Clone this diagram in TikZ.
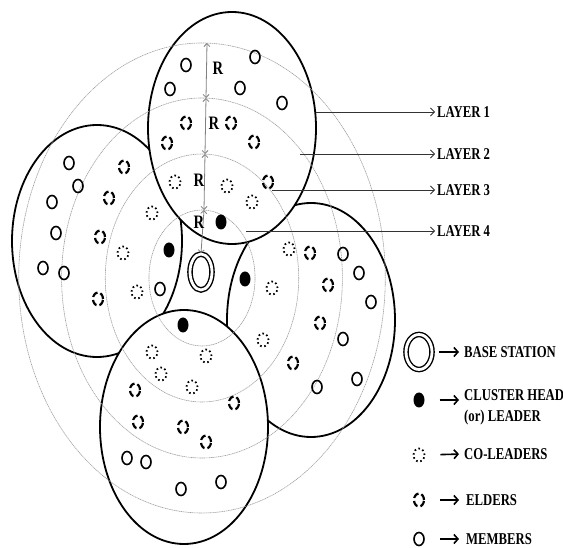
\documentclass[tikz,border=0pt]{standalone}
\usepackage{fontspec}
\setmainfont{Liberation Serif}[FakeStretch=0.77]
\usetikzlibrary{shapes.geometric,arrows.meta}

\tikzset{
  cluster/.style={draw, line width=1.8pt, fill=white},
  layer/.style={draw=gray!75, line width=0.6pt, dash pattern=on 1.2pt off 0.6pt},
  member/.style={draw, ellipse, line width=1.6pt, minimum width=10pt, minimum height=13pt, inner sep=0pt},
  elder/.style={draw, ellipse, line width=2.2pt, dash pattern=on 6.5pt off 3pt, minimum width=10pt, minimum height=13pt, inner sep=0pt},
  coleader/.style={draw, ellipse, line width=1.8pt, dash pattern=on 1.6pt off 2.6pt, minimum width=11pt, minimum height=13pt, inner sep=0pt},
  head/.style={fill, ellipse, minimum width=11pt, minimum height=15pt, inner sep=0pt},
  station/.style={draw, ellipse, double, double distance=2.8pt, line width=1.4pt, minimum width=22pt, minimum height=36pt, inner sep=0pt},
  txt/.style={font=\bfseries\fontsize{16.5}{21}\selectfont, anchor=west, inner sep=2pt, align=left},
  rlab/.style={font=\bfseries\fontsize{19}{19}\selectfont, inner sep=0pt},
  rarrow/.style={{Straight Barb[length=3pt,width=6pt]}-{Straight Barb[length=3pt,width=6pt]}, draw=gray, line width=0.8pt},
  layerarrow/.style={-{Straight Barb[length=4pt,width=8pt]}, draw=black!80, line width=0.8pt},
  legarrow/.style={-{Straight Barb[length=4pt,width=9pt]}, line width=1.6pt}
}

\begin{document}
\begin{tikzpicture}[x=1pt, y=-1pt]
  \useasboundingbox (0,0) rectangle (563,548);

  % Clusters: left and right ones first, top and bottom ones cover them
  \draw[cluster] (97,241) ellipse (85pt and 116pt);
  \draw[cluster] (311,320) ellipse (84pt and 117pt);
  \draw[cluster] (232,128) ellipse (84pt and 116pt);
  \draw[cluster] (184,427) ellipse (84pt and 117pt);

  % Layers round the base station
  \foreach \r in {68,124,180,235} {
      \draw[layer] (202,278) ellipse ({0.78*\r pt} and {\r pt});
  }

  % Base station
  \node[station] (bs) at (201,272) {};

  % Distance R between the layers
  \coordinate (t1) at (207,43);
  \coordinate (t2) at (206,98);
  \coordinate (t3) at (205,154);
  \coordinate (t4) at (204,210);
  \draw[rarrow] (t1) -- (t2);
  \draw[rarrow] (t2) -- (t3);
  \draw[rarrow] (t3) -- (t4);
  \draw[rarrow] (t4) -- (bs.north);
  \node[rlab] (r1) at (218,68) {R};
  \node[rlab] (r2) at (214,123) {R};
  \node[rlab] (r3) at (199,180) {R};
  \node[rlab] (r4) at (199,222) {R};

  % Sensor nodes
  \foreach \x/\y [count=\i] in {186/65, 255/57, 170/89, 240/88, 282/103,
      69/163, 78/186, 52/202, 56/233, 43/268, 64/273, 160/289,
      343/254, 359/273, 371/302, 343/339, 357/379, 317/387,
      127/458, 146/462, 181/489, 221/482} {
      \node[member] (m\i) at (\x,\y) {};
  }
  \foreach \x/\y [count=\i] in {186/123, 231/123, 167/143, 254/142, 268/182,
      124/167, 109/198, 100/237, 98/299,
      310/253, 328/285, 320/323, 293/363, 234/403,
      135/390, 138/422, 183/427, 206/442} {
      \node[elder] (e\i) at (\x,\y) {};
  }
  \foreach \x/\y [count=\i] in {175/182, 227/186, 252/202, 152/213, 289/249,
      123/253, 137/292, 272/288, 263/340,
      152/352, 206/356, 161/374, 192/387} {
      \node[coleader] (c\i) at (\x,\y) {};
  }
  \foreach \x/\y [count=\i] in {221/222, 169/250, 245/279, 183/325} {
      \node[head] (h\i) at (\x,\y) {};
  }

  % Layer labels
  \coordinate (s1) at (316,112);
  \coordinate (s2) at (300,154);
  \coordinate (s3) at (272,190);
  \coordinate (s4) at (246,231);
  \node[txt] (l1) at (435,112) {LAYER 1};
  \node[txt] (l2) at (435,154) {LAYER 2};
  \node[txt] (l3) at (435,190) {LAYER 3};
  \node[txt] (l4) at (435,231) {LAYER 4};
  \foreach \i in {1,2,3,4} {
      \draw[layerarrow] (s\i) -- (l\i.west);
  }

  % Legend
  \node[station, minimum width=26pt, minimum height=35pt] (lbs) at (419,352) {};
  \node[head] (lch) at (419,400) {};
  \node[coleader] (lco) at (419,455) {};
  \node[elder] (lel) at (419,500) {};
  \node[member] (lme) at (419,539) {};
  \node[txt] (tbs) at (462,352) {BASE STATION};
  \node[txt] (tch) at (462,407) {CLUSTER HEAD\\(or) LEADER};
  \node[txt] (tco) at (462,454) {CO-LEADERS};
  \node[txt] (tel) at (464,500) {ELDERS};
  \node[txt] (tme) at (464,539) {MEMBERS};
  \draw[legarrow, shorten <=6pt, shorten >=3pt] (lbs.east) -- (tbs.west);
  \draw[legarrow, shorten <=15pt, shorten >=3pt] (lch.east) -- (lch.east -| tch.west);
  \draw[legarrow, shorten <=15pt, shorten >=3pt] (lco.east) -- (tco.west);
  \draw[legarrow, shorten <=15pt, shorten >=5pt] (lel.east) -- (tel.west);
  \draw[legarrow, shorten <=15pt, shorten >=5pt] (lme.east) -- (tme.west);
\end{tikzpicture}
\end{document}
